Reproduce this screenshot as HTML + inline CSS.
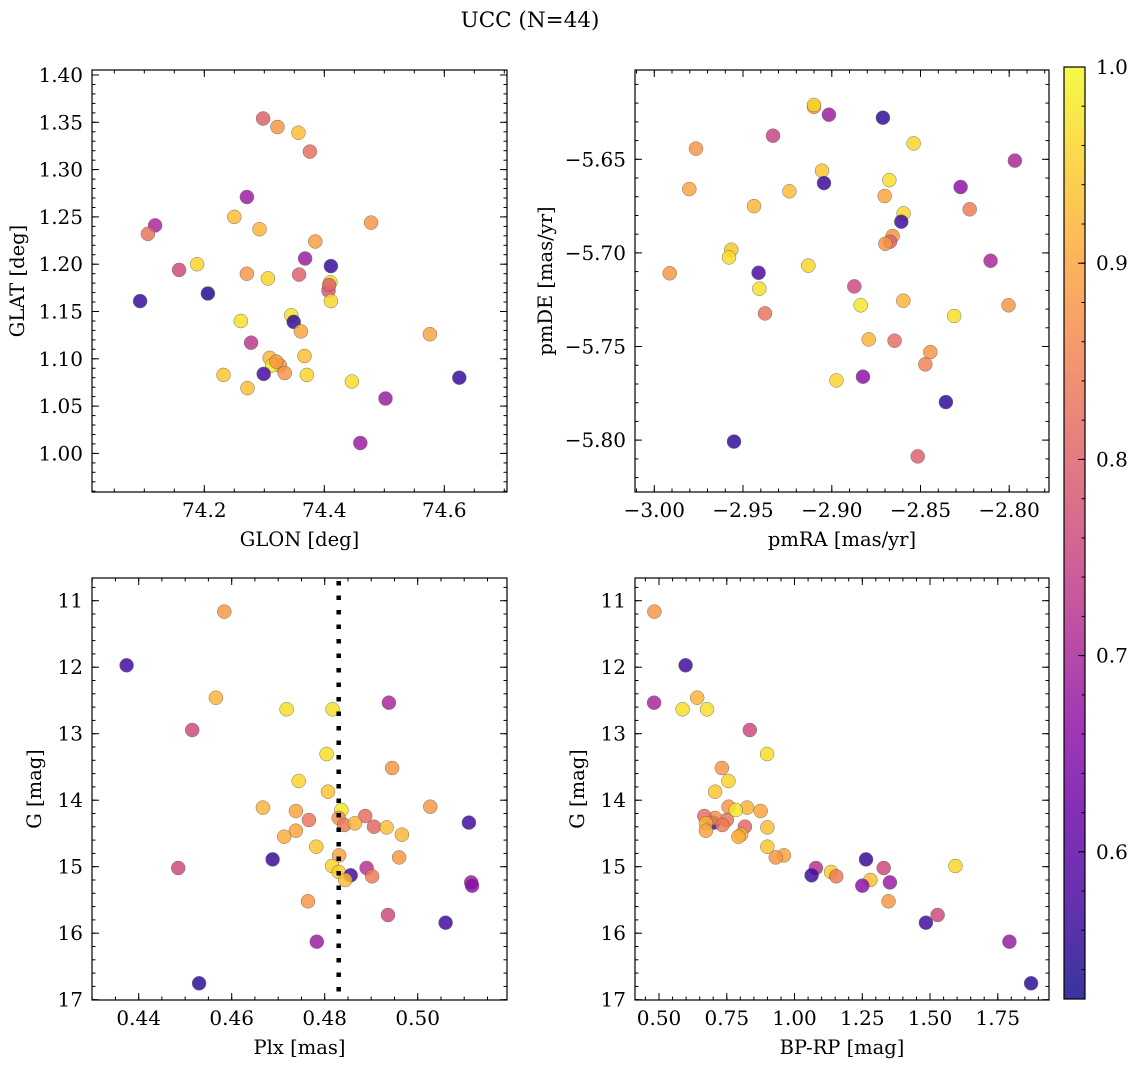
<!DOCTYPE html>
<html><head><meta charset="utf-8"><title>UCC (N=44)</title>
<style>
html,body{margin:0;padding:0;background:#fff;}
svg{display:block;font-family:"DejaVu Serif","Liberation Serif",serif;}
</style></head>
<body>
<svg id="fig" width="1136" height="1067" viewBox="0 0 1136 1067" xmlns="http://www.w3.org/2000/svg">
<defs>
<linearGradient id="cbgrad" x1="0" y1="1" x2="0" y2="0">
<stop offset="0" stop-color="#0d0887"/><stop offset="0.1" stop-color="#41049d"/><stop offset="0.2" stop-color="#6a00a8"/><stop offset="0.3" stop-color="#8f0da4"/><stop offset="0.4" stop-color="#b12a90"/><stop offset="0.5" stop-color="#cc4778"/><stop offset="0.6" stop-color="#e16462"/><stop offset="0.7" stop-color="#f2844b"/><stop offset="0.8" stop-color="#fca636"/><stop offset="0.9" stop-color="#fcce25"/><stop offset="1" stop-color="#f0f921"/>
</linearGradient>
</defs>
<text x="530" y="27" font-size="21.5" text-anchor="middle">UCC (N=44)</text>
</svg>
<script>
// ---- Panel 1: GLON / GLAT ----
const glon = [74.298,74.322,74.357,74.376,74.271,74.250,74.292,74.478,74.118,74.106,74.385,74.368,74.411,74.158,74.188,74.271,74.306,74.358,74.407,74.410,74.411,74.093,74.206,74.261,74.345,74.349,74.361,74.576,74.278,74.309,74.326,74.313,74.334,74.367,74.299,74.232,74.371,74.272,74.446,74.625,74.502,74.460,74.320,74.408];
const glat = [1.354,1.345,1.339,1.319,1.271,1.250,1.237,1.244,1.241,1.232,1.224,1.206,1.198,1.194,1.200,1.190,1.185,1.189,1.172,1.181,1.161,1.161,1.169,1.140,1.146,1.139,1.129,1.126,1.117,1.101,1.093,1.093,1.085,1.103,1.084,1.083,1.083,1.069,1.076,1.080,1.058,1.011,1.097,1.178];
const probPos = [0.80,0.88,0.93,0.82,0.68,0.93,0.92,0.88,0.70,0.83,0.89,0.68,0.56,0.76,0.96,0.88,0.96,0.80,0.78,0.97,0.96,0.56,0.54,0.97,0.97,0.55,0.90,0.90,0.73,0.92,0.88,0.98,0.88,0.93,0.57,0.94,0.96,0.93,0.97,0.56,0.68,0.68,0.88,0.80];
// ---- Panel 2: pmRA / pmDE ----
const pmra = [-2.910,-2.910,-2.9016,-2.8712,-2.9331,-2.9765,-2.8539,-2.7968,-2.9055,-2.9044,-2.8676,-2.9803,-2.9239,-2.8702,-2.8274,-2.8223,-2.9438,-2.8595,-2.8608,-2.8657,-2.8672,-2.8698,-2.9566,-2.9579,-2.9913,-2.9412,-2.9132,-2.8105,-2.9408,-2.8873,-2.8837,-2.8597,-2.8004,-2.9376,-2.8310,-2.8792,-2.8646,-2.8445,-2.8473,-2.8974,-2.8824,-2.8357,-2.9551,-2.8516];
const pmde = [-5.622,-5.621,-5.6262,-5.6278,-5.6374,-5.6443,-5.6415,-5.6507,-5.6561,-5.6627,-5.6611,-5.6659,-5.6671,-5.6696,-5.6648,-5.6767,-5.6750,-5.6789,-5.6833,-5.6910,-5.6940,-5.6951,-5.6983,-5.7024,-5.7109,-5.7106,-5.7068,-5.7042,-5.7191,-5.7179,-5.7280,-5.7255,-5.7280,-5.7323,-5.7337,-5.7462,-5.7469,-5.7530,-5.7595,-5.7681,-5.7661,-5.7797,-5.8008,-5.8087];
const probPm = [0.88,0.96,0.68,0.55,0.75,0.88,0.96,0.70,0.94,0.56,0.97,0.90,0.93,0.90,0.66,0.84,0.92,0.96,0.57,0.88,0.80,0.88,0.94,0.97,0.88,0.58,0.96,0.70,0.97,0.76,0.98,0.92,0.88,0.83,0.97,0.92,0.82,0.88,0.85,0.96,0.66,0.55,0.55,0.80];
// ---- Panels 3 & 4: Plx / BP-RP / G ----
const gmag = [14.338,11.165,11.972,12.459,12.634,12.634,12.534,12.945,13.306,13.516,13.712,13.872,14.111,14.163,14.098,14.148,14.298,14.268,14.238,14.373,14.348,14.399,14.409,14.519,14.459,14.549,14.699,14.830,14.860,14.890,15.020,14.990,15.020,15.080,15.130,15.201,15.145,15.236,15.286,15.521,15.727,15.842,16.128,16.754];
const plx = [0.5110,0.4584,0.4374,0.4566,0.4718,0.4817,0.4938,0.4515,0.4804,0.4945,0.4744,0.4807,0.4667,0.4738,0.5027,0.4836,0.4766,0.4830,0.4887,0.4842,0.4865,0.4906,0.4933,0.4966,0.4738,0.4713,0.4782,0.4831,0.4960,0.4688,0.4485,0.4816,0.4890,0.4830,0.4856,0.4844,0.4902,0.5115,0.5117,0.4764,0.4936,0.5060,0.4783,0.4530];
const bprp = [0.701,0.483,0.598,0.641,0.587,0.677,0.482,0.835,0.899,0.732,0.756,0.707,0.825,0.875,0.757,0.783,0.750,0.707,0.667,0.734,0.673,0.817,0.900,0.803,0.673,0.793,0.900,0.961,0.931,1.264,1.329,1.594,1.079,1.135,1.063,1.280,1.154,1.352,1.250,1.347,1.528,1.485,1.793,1.873];
const probCmd = [0.57,0.88,0.57,0.92,0.97,0.97,0.70,0.76,0.97,0.88,0.96,0.94,0.92,0.90,0.88,0.98,0.83,0.87,0.82,0.84,0.92,0.81,0.93,0.92,0.90,0.91,0.94,0.90,0.88,0.56,0.76,0.96,0.72,0.95,0.57,0.93,0.84,0.68,0.66,0.88,0.76,0.57,0.68,0.55];
const plxLine = 0.483;
// colour scale & tick labels
const cbTicks = [0.6,0.7,0.8,0.9,1.0];
const p1XTicks = [74.2,74.4,74.6];
const p1YTicks = [1.00,1.05,1.10,1.15,1.20,1.25,1.30,1.35,1.40];
const p2XTicks = [-3.00,-2.95,-2.90,-2.85,-2.80];
const p2YTicks = [-5.65,-5.70,-5.75,-5.80];
const p3XTicks = [0.44,0.46,0.48,0.50];
const gTicks = [11,12,13,14,15,16,17];
const p4XTicks = [0.50,0.75,1.00,1.25,1.50,1.75];

const VMIN = 0.525, VMAX = 1.0;
const TFS = 20, LFS = 19.5;
const NS = 'http://www.w3.org/2000/svg';
const svg = document.getElementById('fig');
const stops = [[13,8,135],[65,4,157],[106,0,168],[143,13,164],[177,42,144],[204,71,120],[225,100,98],[242,132,75],[252,166,54],[252,206,37],[240,249,33]];
function plasma(v){
  let t = (v-VMIN)/(VMAX-VMIN); t = Math.max(0,Math.min(1,t))*10;
  const i = Math.min(9,Math.floor(t)), f = t-i;
  const a = stops[i], b = stops[i+1];
  return 'rgb('+a.map((c,k)=>Math.round(c+(b[k]-c)*f)).join(',')+')';
}
function el(tag, attrs, parent){
  const e = document.createElementNS(NS, tag);
  for (const k in attrs) e.setAttribute(k, attrs[k]);
  (parent||svg).appendChild(e);
  return e;
}
function fmt(v, d){ const s = Math.abs(v).toFixed(d); return (v<0?'\u2212':'')+s; }

function panel(name, box, xd, yd, yInv, xs, ys, ps, xt, xdec, xminor, yt, ydec, yminor, xlabel, ylabel){
  const g = el('g', {});
  
  
  const sx = v => box.x0 + (v-xd[0])/(xd[1]-xd[0])*(box.x1-box.x0);
  const sy = yInv ? (v => box.y0 + (v-yd[0])/(yd[1]-yd[0])*(box.y1-box.y0))
                  : (v => box.y1 - (v-yd[0])/(yd[1]-yd[0])*(box.y1-box.y0));
  const pts = el('g', {}, g);
  
  
  for (let i=0;i<xs.length;i++){
    const c = el('circle', {cx:sx(xs[i]).toFixed(1), cy:sy(ys[i]).toFixed(1), r:7, fill:plasma(ps[i]), stroke:'#555', 'stroke-width':0.5, opacity:0.82}, pts);
    
    
  }
  const tk = el('g', {stroke:'#000','stroke-width':1}, g);
  
  
  const xlo = Math.min(xd[0],xd[1]), xhi = Math.max(xd[0],xd[1]);
  for (let v=Math.ceil(xlo/xminor-1e-6)*xminor; v<=xhi+1e-9; v+=xminor){
    const x = sx(v).toFixed(1);
    el('line',{x1:x,x2:x,y1:box.y1,y2:box.y1-3.5},tk);
    el('line',{x1:x,x2:x,y1:box.y0,y2:box.y0+3.5},tk);
  }
  const ylo = Math.min(yd[0],yd[1]), yhi = Math.max(yd[0],yd[1]);
  for (let v=Math.ceil(ylo/yminor-1e-6)*yminor; v<=yhi+1e-9; v+=yminor){
    const y = sy(v).toFixed(1);
    el('line',{x1:box.x0,x2:box.x0+3.5,y1:y,y2:y},tk);
    el('line',{x1:box.x1,x2:box.x1-3.5,y1:y,y2:y},tk);
  }
  xt.forEach(v=>{
    const x = sx(v).toFixed(1);
    el('line',{x1:x,x2:x,y1:box.y1,y2:box.y1-7},tk);
    el('line',{x1:x,x2:x,y1:box.y0,y2:box.y0+7},tk);
    const t = el('text',{x:x,y:box.y1+25,'font-size':TFS,'text-anchor':'middle'},g);
    
    
    t.textContent = fmt(v,xdec);
  });
  yt.forEach(v=>{
    const y = sy(v);
    el('line',{x1:box.x0,x2:box.x0+7,y1:y.toFixed(1),y2:y.toFixed(1)},tk);
    el('line',{x1:box.x1,x2:box.x1-7,y1:y.toFixed(1),y2:y.toFixed(1)},tk);
    const t = el('text',{x:box.x0-9,y:(y+7).toFixed(1),'font-size':TFS,'text-anchor':'end'},g);
    
    
    t.textContent = fmt(v,ydec);
  });
  const fr = el('rect',{x:box.x0,y:box.y0,width:box.x1-box.x0,height:box.y1-box.y0,fill:'none',stroke:'#000','stroke-width':1.2},g);
  
  
  const xl = el('text',{x:(box.x0+box.x1)/2,y:box.y1+54,'font-size':LFS,'text-anchor':'middle'},g);
  
  
  xl.textContent = xlabel;
  const yx = ylabel.lx, yy=(box.y0+box.y1)/2;
  const yl = el('text',{x:yx,y:yy,'font-size':LFS,'text-anchor':'middle',transform:'rotate(-90 '+yx+' '+yy+')'},g);
  
  
  yl.textContent = ylabel.text;
  return {sx, sy, g};
}

panel('panel-glon-glat',{x0:92,x1:507,y0:70,y1:492},[74.0128,74.7045],[0.9592,1.4053],false,
  glon,glat,probPos,p1XTicks,1,0.05,p1YTicks,2,0.01,'GLON [deg]',{lx:24,text:'GLAT [deg]'});
panel('panel-pm',{x0:635,x1:1049,y0:70,y1:492},[-3.01087,-2.7776],[-5.8277,-5.6023],false,
  pmra,pmde,probPm,p2XTicks,2,0.01,p2YTicks,2,0.01,'pmRA [mas/yr]',{lx:552,text:'pmDE [mas/yr]'});
const p3 = panel('panel-plx-g',{x0:92,x1:507,y0:578,y1:1000},[0.42996,0.5192],[10.659,17.005],true,
  plx,gmag,probCmd,p3XTicks,2,0.005,gTicks,0,0.2,'Plx [mas]',{lx:41,text:'G [mag]'});
panel('panel-cmd',{x0:635,x1:1049,y0:578,y1:1000},[0.41144,1.9391],[10.659,17.005],true,
  bprp,gmag,probCmd,p4XTicks,2,0.05,gTicks,0,0.2,'BP-RP [mag]',{lx:584,text:'G [mag]'});

const lx = p3.sx(plxLine).toFixed(1);
const dl = el('line',{x1:lx,x2:lx,y1:581,y2:1000,stroke:'#000','stroke-width':4.5,'stroke-dasharray':'4.5 10'},p3.g);



const cb = el('g',{});


const cbBox = {x0:1064,x1:1085,y0:67,y1:999};
el('rect',{x:cbBox.x0,y:cbBox.y0,width:cbBox.x1-cbBox.x0,height:cbBox.y1-cbBox.y0,fill:'url(#cbgrad)',opacity:0.82},cb);
const cy = v => cbBox.y1 - (v-VMIN)/(VMAX-VMIN)*(cbBox.y1-cbBox.y0);
for (let v=0.54; v<=1.0001; v+=0.02){
  const y = cy(v).toFixed(1);
  el('line',{x1:cbBox.x1,x2:cbBox.x1-3.5,y1:y,y2:y,stroke:'#000','stroke-width':1},cb);
}
cbTicks.forEach(v=>{
  const y = cy(v);
  el('line',{x1:cbBox.x1,x2:cbBox.x1-7,y1:y.toFixed(1),y2:y.toFixed(1),stroke:'#000','stroke-width':1},cb);
  const t = el('text',{x:1096,y:(y+7).toFixed(1),'font-size':TFS},cb);
  
  
  t.textContent = v.toFixed(1);
});
el('rect',{x:cbBox.x0,y:cbBox.y0,width:cbBox.x1-cbBox.x0,height:cbBox.y1-cbBox.y0,fill:'none',stroke:'#000','stroke-width':1.2},cb);
</script>
</body></html>
